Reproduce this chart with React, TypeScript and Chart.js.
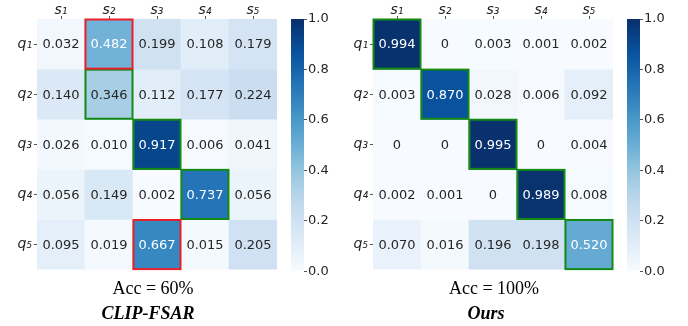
import React, { useEffect, useRef } from 'react';
import { Chart, registerables } from 'chart.js';
Chart.register(...registerables);

const colLabels = ['s₁', 's₂', 's₃', 's₄', 's₅'];
const rowLabels = ['q₁', 'q₂', 'q₃', 'q₄', 'q₅'];

const clipValues = [
  [0.032, 0.482, 0.199, 0.108, 0.179],
  [0.14, 0.346, 0.112, 0.177, 0.224],
  [0.026, 0.01, 0.917, 0.006, 0.041],
  [0.056, 0.149, 0.002, 0.737, 0.056],
  [0.095, 0.019, 0.667, 0.015, 0.205],
];
const oursValues = [
  [0.994, 0, 0.003, 0.001, 0.002],
  [0.003, 0.87, 0.028, 0.006, 0.092],
  [0, 0, 0.995, 0, 0.004],
  [0.002, 0.001, 0, 0.989, 0.008],
  [0.07, 0.016, 0.196, 0.198, 0.52],
];
// [row, col]
const clipRed = [[0, 1], [4, 2]];
const clipGreen = [[1, 1], [2, 2], [3, 3]];
const oursRed: number[][] = [];
const oursGreen = [[0, 0], [1, 1], [2, 2], [3, 3], [4, 4]];

const colorbarTicks = [0, 0.2, 0.4, 0.6, 0.8, 1.0];

const BLUES = ['#f7fbff', '#deebf7', '#c6dbef', '#9ecae1', '#6baed6', '#4292c6', '#2171b5', '#08519c', '#08306b'];

function hexToRgb(h: string) {
  return [parseInt(h.slice(1, 3), 16), parseInt(h.slice(3, 5), 16), parseInt(h.slice(5, 7), 16)];
}
function blues(v: number) {
  const t = Math.max(0, Math.min(1, v)) * (BLUES.length - 1);
  const i = Math.min(BLUES.length - 2, Math.floor(t));
  const f = t - i;
  const a = hexToRgb(BLUES[i]);
  const b = hexToRgb(BLUES[i + 1]);
  return a.map((x, k) => Math.round(x + (b[k] - x) * f));
}
function rgbStr(c: number[]) {
  return `rgb(${c[0]},${c[1]},${c[2]})`;
}
function luminance(c: number[]) {
  const l = c.map((x) => {
    const s = x / 255;
    return s <= 0.03928 ? s / 12.92 : Math.pow((s + 0.055) / 1.055, 2.4);
  });
  return 0.2126 * l[0] + 0.7152 * l[1] + 0.0722 * l[2];
}
function fmt(v: number) {
  return v === 0 ? '0' : v.toFixed(3);
}

const FONT = 'DejaVu Sans';

function Heatmap({ values, red, green, left }: { values: number[][]; red: number[][]; green: number[][]; left: number }) {
  const ref = useRef<HTMLCanvasElement>(null);
  useEffect(() => {
    const canvas = ref.current!;
    const datasets = values.map((row, r) => ({
      label: rowLabels[r],
      data: row.map(() => [r, r + 1]),
      backgroundColor: row.map((v) => rgbStr(blues(v))),
      borderWidth: 0,
      barPercentage: 1,
      categoryPercentage: 1,
      grouped: false,
    }));
    const plugin = {
      id: 'cells',
      afterDatasetsDraw(chart: any) {
        const ctx = chart.ctx;
        ctx.save();
        ctx.font = `13px ${FONT}`;
        ctx.textAlign = 'center';
        ctx.textBaseline = 'middle';
        const rects: any[][] = [];
        chart.data.datasets.forEach((_ds: any, r: number) => {
          const meta = chart.getDatasetMeta(r);
          rects[r] = [];
          meta.data.forEach((el: any, c: number) => {
            const v = values[r][c];
            const top = Math.min(el.y, el.base);
            const bot = Math.max(el.y, el.base);
            rects[r][c] = { l: el.x - el.width / 2, r: el.x + el.width / 2, t: top, b: bot };
            ctx.fillStyle = luminance(blues(v)) > 0.408 ? '#262626' : '#ffffff';
            ctx.fillText(fmt(v), el.x, (top + bot) / 2 + 1);
          });
        });
        ctx.lineWidth = 2;
        const stroke = (list: number[][], color: string) => {
          ctx.strokeStyle = color;
          list.forEach(([r, c]) => {
            const q = rects[r][c];
            ctx.strokeRect(q.l + 0.5, q.t + 0.5, q.r - q.l - 1, q.b - q.t - 1);
          });
        };
        stroke(green, '#138a13');
        stroke(red, '#e8202a');
        ctx.restore();
      },
    };
    const chart = new Chart(canvas, {
      type: 'bar',
      data: { labels: colLabels, datasets: datasets as any },
      options: {
        animation: false,
        responsive: false,
        events: [],
        layout: { padding: { left: 0, right: 8, top: 0, bottom: 8 } },
        plugins: { legend: { display: false }, tooltip: { enabled: false } },
        scales: {
          x: {
            type: 'category',
            position: 'top',
            offset: true,
            grid: { display: true, drawOnChartArea: false, drawTicks: true, tickLength: 3, color: '#555', offset: false },
            border: { display: false },
            ticks: { color: '#262626', font: { family: FONT, size: 14, style: 'italic' }, padding: -3, maxRotation: 0 },
            afterFit: (s: any) => { s.height = 19; },
          },
          y: {
            type: 'linear',
            min: 0,
            max: 5,
            reverse: true,
            afterBuildTicks: (s: any) => { s.ticks = [0.5, 1.5, 2.5, 3.5, 4.5].map((v) => ({ value: v })); },
            grid: { display: true, drawOnChartArea: false, drawTicks: true, tickLength: 3, color: '#555' },
            border: { display: false },
            ticks: {
              color: '#262626',
              font: { family: FONT, size: 14, style: 'italic' },
              padding: 2,
              callback: (_v: any, i: number) => rowLabels[i],
            },
            afterFit: (s: any) => { s.width = 37; },
          },
        },
      },
      plugins: [plugin],
    });
    return () => chart.destroy();
  }, []);
  return (
    <canvas ref={ref} width={285} height={280} style={{ position: 'absolute', left, top: 0, width: 285, height: 280 }} />
  );
}

function Colorbar({ left }: { left: number }) {
  const ref = useRef<HTMLCanvasElement>(null);
  useEffect(() => {
    const canvas = ref.current!;
    const chart = new Chart(canvas, {
      type: 'bar',
      data: {
        labels: [''],
        datasets: [
          {
            data: [[0, 1]] as any,
            barPercentage: 1,
            categoryPercentage: 1,
            borderWidth: 0,
            backgroundColor: (c: any) => {
              const area = c.chart.chartArea;
              if (!area) return BLUES[4];
              const g = c.chart.ctx.createLinearGradient(0, area.bottom, 0, area.top);
              for (let i = 0; i <= 64; i++) g.addColorStop(i / 64, rgbStr(blues(i / 64)));
              return g;
            },
          },
        ],
      },
      options: {
        animation: false,
        responsive: false,
        events: [],
        layout: { padding: { left: 6, right: 0, top: 19, bottom: 8 } },
        plugins: { legend: { display: false }, tooltip: { enabled: false } },
        scales: {
          x: { display: false },
          y: {
            position: 'right',
            min: 0,
            max: 1,
            afterBuildTicks: (s: any) => { s.ticks = colorbarTicks.map((v) => ({ value: v })); },
            grid: { display: true, drawOnChartArea: false, drawTicks: true, tickLength: 3, color: '#555' },
            border: { display: false },
            ticks: { color: '#262626', font: { family: FONT, size: 13 }, padding: 1, callback: (v: any) => Number(v).toFixed(1) },
            afterFit: (s: any) => { s.width = 41; },
          },
        },
      },
    });
    return () => chart.destroy();
  }, []);
  return <canvas ref={ref} width={60} height={280} style={{ position: 'absolute', left, top: 0, width: 60, height: 280 }} />;
}

const serif = '"Liberation Serif", "Times New Roman", serif';

function Label({ text, cx, top, bold }: { text: string; cx: number; top: number; bold?: boolean }) {
  return (
    <div
      style={{
        position: 'absolute',
        left: cx - 100,
        width: 200,
        top,
        textAlign: 'center',
        fontFamily: serif,
        fontSize: 18,
        lineHeight: '20px',
        fontWeight: bold ? 'bold' : 'normal',
        fontStyle: bold ? 'italic' : 'normal',
        color: '#000',
        whiteSpace: 'nowrap',
      }}
    >
      {text}
    </div>
  );
}

export default function App() {
  return (
    <div style={{ position: 'absolute', left: 0, top: 0, width: 688, height: 326, background: '#fff', overflow: 'hidden' }}>
      <Heatmap values={clipValues} red={clipRed} green={clipGreen} left={0} />
      <Colorbar left={285} />
      <Heatmap values={oursValues} red={oursRed} green={oursGreen} left={336} />
      <Colorbar left={621} />
      <Label text="Acc = 60%" cx={153} top={278} />
      <Label text="CLIP-FSAR" cx={148} top={303} bold />
      <Label text="Acc = 100%" cx={494} top={278} />
      <Label text="Ours" cx={486} top={303} bold />
    </div>
  );
}
